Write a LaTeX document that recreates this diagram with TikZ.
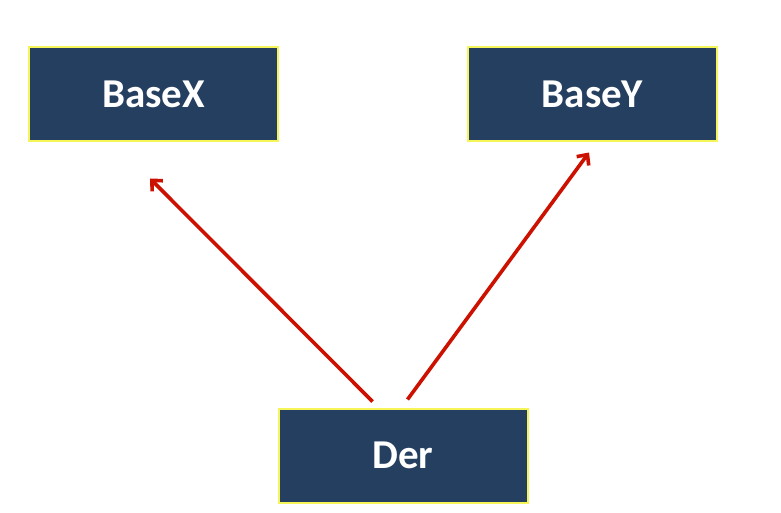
\documentclass[tikz,border=0pt]{standalone}
\usepackage{fontspec}
\setmainfont{Carlito}
\usetikzlibrary{arrows.meta}
\definecolor{boxfill}{HTML}{243F60}
\definecolor{boxline}{HTML}{F5F55A}
\definecolor{arrred}{HTML}{CC1100}
\begin{document}
\begin{tikzpicture}[x=1pt,y=-1pt,
  classbox/.style={draw=boxline,line width=2pt,fill=boxfill,minimum width=249pt,minimum height=94pt,inner sep=0pt,text=white,font=\fontsize{41}{44}\selectfont\bfseries},
  inherit/.style={draw=arrred,line width=3.6pt,-{Straight Barb[length=8pt,width=15pt,line width=3.6pt]}}]
\useasboundingbox (0,0) rectangle (781,513);
\node[classbox] (basex) at (153.5,94.5) {BaseX};
\node[classbox] (basey) at (592.5,94.5) {BaseY};
\node[classbox] (der) at (403,455.5) {Der};
\coordinate (s1) at ([xshift=95pt,yshift=6pt]der.north west);
\coordinate (t1) at ([xshift=122pt,yshift=-36pt]basex.south west);
\coordinate (s2) at ([xshift=130pt,yshift=8pt]der.north west);
\coordinate (t2) at ([xshift=122pt,yshift=-10pt]basey.south west);
\draw[inherit] (s1) -- (t1);
\draw[inherit] (s2) -- (t2);
\end{tikzpicture}
\end{document}
